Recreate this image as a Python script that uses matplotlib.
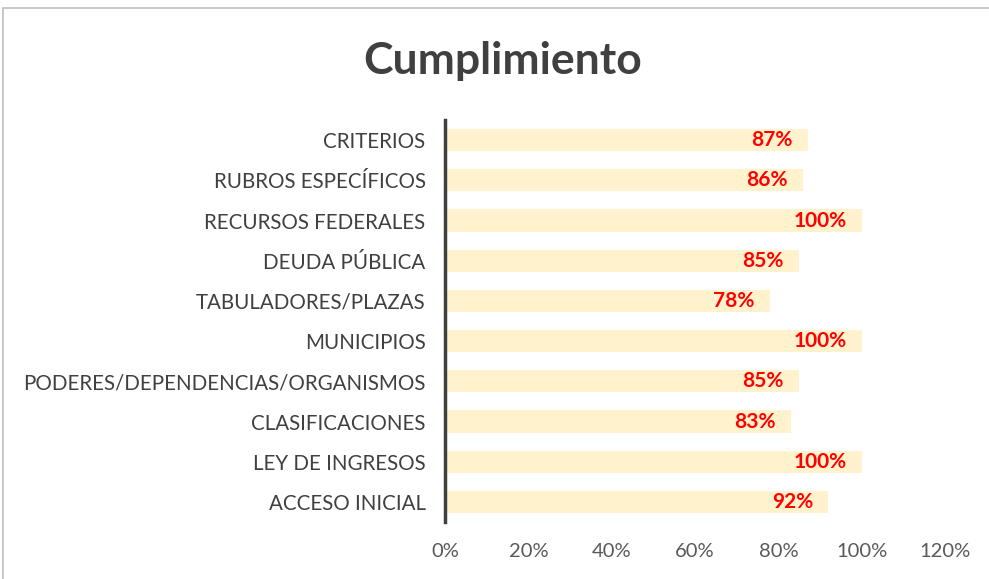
import matplotlib.pyplot as plt
from matplotlib.patches import Rectangle

categories = ['CRITERIOS', 'RUBROS ESPECÍFICOS', 'RECURSOS FEDERALES', 'DEUDA PÚBLICA',
              'TABULADORES/PLAZAS', 'MUNICIPIOS', 'PODERES/DEPENDENCIAS/ORGANISMOS',
              'CLASIFICACIONES', 'LEY DE INGRESOS', 'ACCESO INICIAL']
values = [0.87, 0.86, 1.00, 0.85, 0.78, 1.00, 0.85, 0.83, 1.00, 0.92]
xticks = [0, 0.2, 0.4, 0.6, 0.8, 1.0, 1.2]

plt.rcParams['font.family'] = ['Lato', 'DejaVu Sans']

fig = plt.figure(figsize=(9.89, 5.79), dpi=100)
ax = fig.add_axes([0.45, 0.0984, 0.5055, 0.6943])

y = list(range(len(categories)))[::-1]
ax.barh(y, values, height=0.55, color='#FFF2CC')

for yi, v in zip(y, values):
    ax.annotate('%d%%' % round(v * 100), (v, yi), xytext=(-11, 0), textcoords='offset points',
                ha='right', va='center', color='#FF0000', fontsize=15, fontweight='bold')

ax.set_xlim(0, 1.2)
ax.set_ylim(-0.5, len(categories) - 0.5)
ax.set_yticks(y)
ax.set_yticklabels(categories, fontsize=14.8, color='#404040')
ax.set_xticks(xticks)
ax.set_xticklabels(['%d%%' % round(t * 100) for t in xticks], fontsize=14.5, color='#595959')
ax.tick_params(axis='y', length=0, pad=14)
ax.tick_params(axis='x', length=0, pad=15)
for s in ['top', 'right', 'bottom']:
    ax.spines[s].set_visible(False)
ax.spines['left'].set_color('#404040')
ax.spines['left'].set_linewidth(2.5)

fig.text(0.508, 0.895, 'Cumplimiento', ha='center', va='center', fontsize=32,
         fontweight='bold', color='#404040')

fig.patches.append(Rectangle((3 / 989, -0.1), 1.2, 1.1 - 8 / 579, transform=fig.transFigure,
                             fill=False, edgecolor='#BFBFBF', linewidth=1.2))

fig.savefig('out.png', dpi=100)
